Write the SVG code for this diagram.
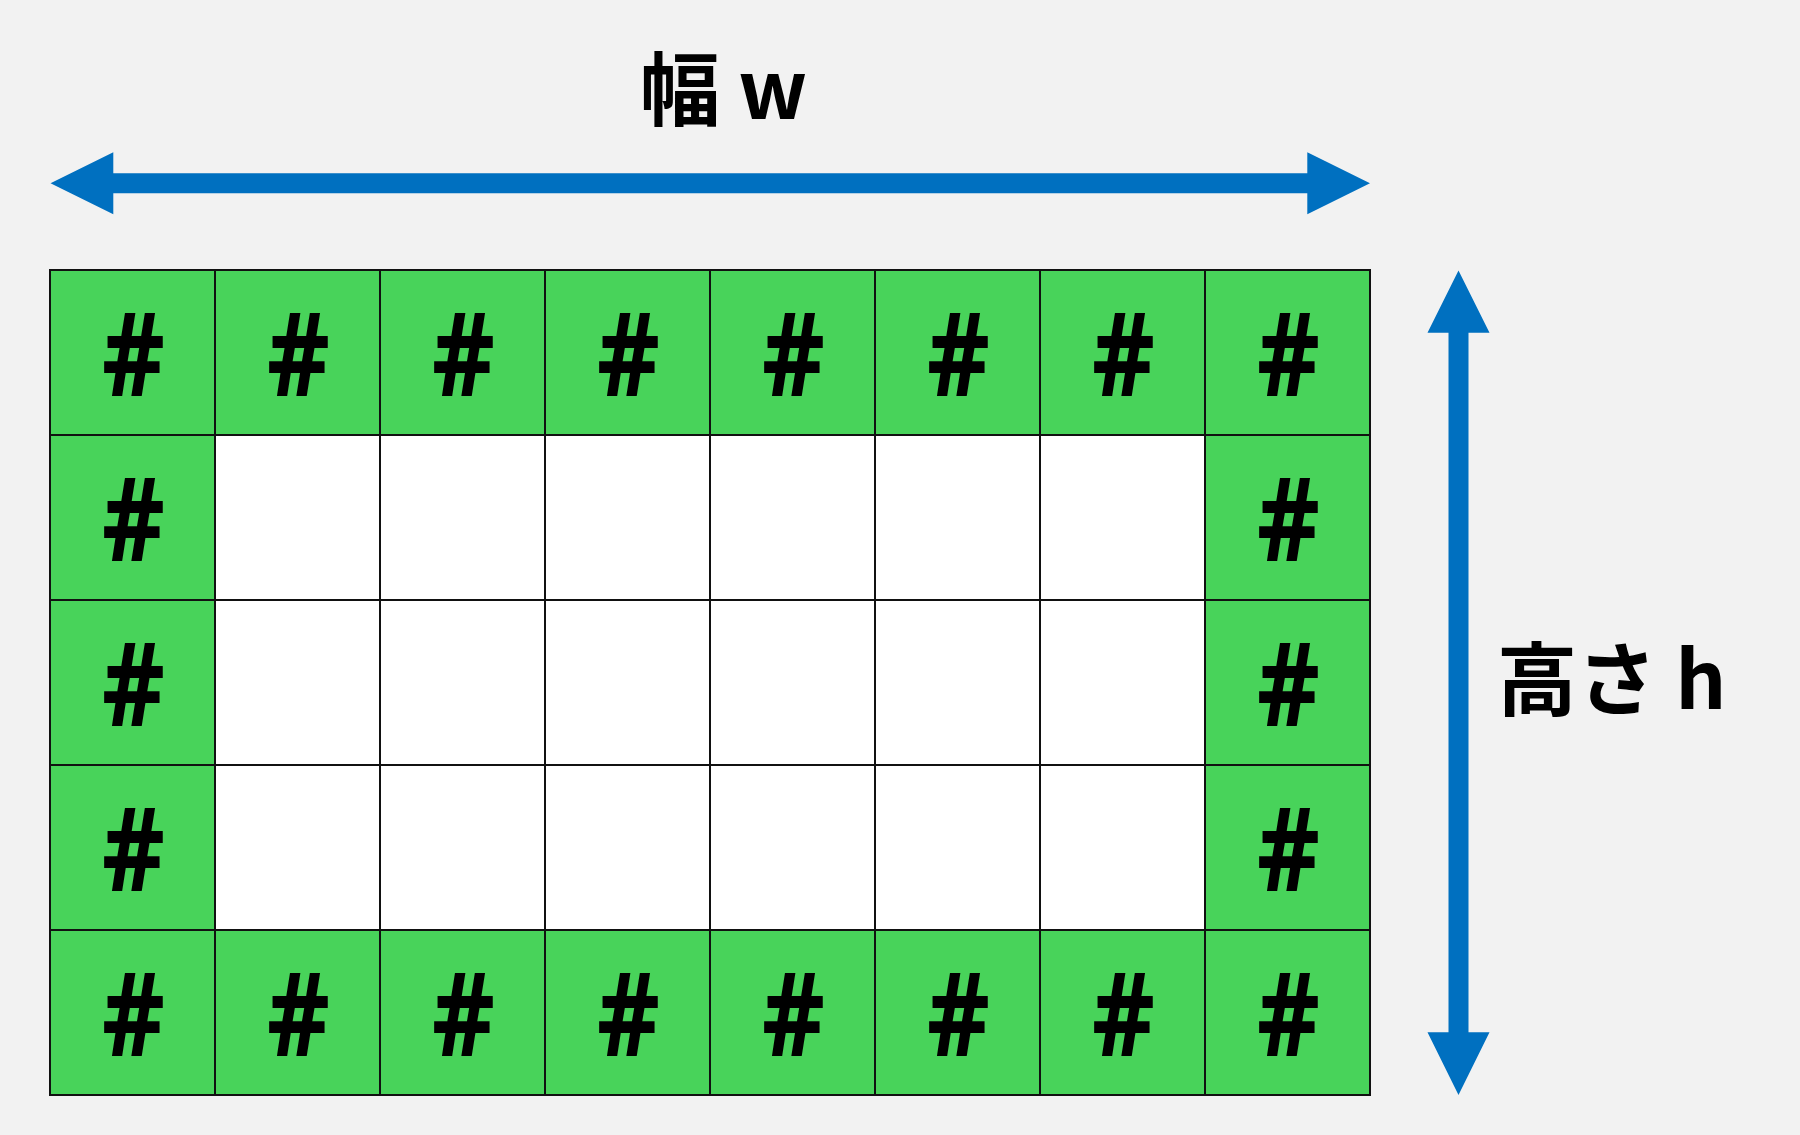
<svg xmlns="http://www.w3.org/2000/svg" width="1800" height="1135" viewBox="0 0 1800 1135">
<style>
.g{fill:#48d35a;stroke:#111;stroke-width:2}
.w{fill:#fff;stroke:#111;stroke-width:2}
.h{font-family:"Noto Sans","DejaVu Sans",sans-serif;font-weight:bold;font-size:116px;text-anchor:middle;fill:#000}
.lab{font-family:"Noto Sans CJK JP","Noto Sans",sans-serif;font-weight:bold;font-size:80px;fill:#000}
.arr{fill:#0070c0}
</style>
<defs>
<g id="gc"><rect class="g" x="0" y="0" width="165" height="165"/><text class="h" transform="translate(83.5,126) scale(0.84,1)">#</text></g>
<rect id="wc" class="w" x="0" y="0" width="165" height="165"/>
</defs>
<rect x="0" y="0" width="1800" height="1135" fill="#f2f2f2"/>
<g id="cells">
<g id="r0">
<use href="#gc" x="50" y="270"/><use href="#gc" x="215" y="270"/><use href="#gc" x="380" y="270"/><use href="#gc" x="545" y="270"/><use href="#gc" x="710" y="270"/><use href="#gc" x="875" y="270"/><use href="#gc" x="1040" y="270"/><use href="#gc" x="1205" y="270"/>
</g>
<g id="r1">
<use href="#gc" x="50" y="435"/><use href="#wc" x="215" y="435"/><use href="#wc" x="380" y="435"/><use href="#wc" x="545" y="435"/><use href="#wc" x="710" y="435"/><use href="#wc" x="875" y="435"/><use href="#wc" x="1040" y="435"/><use href="#gc" x="1205" y="435"/>
</g>
<g id="r2">
<use href="#gc" x="50" y="600"/><use href="#wc" x="215" y="600"/><use href="#wc" x="380" y="600"/><use href="#wc" x="545" y="600"/><use href="#wc" x="710" y="600"/><use href="#wc" x="875" y="600"/><use href="#wc" x="1040" y="600"/><use href="#gc" x="1205" y="600"/>
</g>
<g id="r3">
<use href="#gc" x="50" y="765"/><use href="#wc" x="215" y="765"/><use href="#wc" x="380" y="765"/><use href="#wc" x="545" y="765"/><use href="#wc" x="710" y="765"/><use href="#wc" x="875" y="765"/><use href="#wc" x="1040" y="765"/><use href="#gc" x="1205" y="765"/>
</g>
<g id="r4">
<use href="#gc" x="50" y="930"/><use href="#gc" x="215" y="930"/><use href="#gc" x="380" y="930"/><use href="#gc" x="545" y="930"/><use href="#gc" x="710" y="930"/><use href="#gc" x="875" y="930"/><use href="#gc" x="1040" y="930"/><use href="#gc" x="1205" y="930"/>
</g>
</g>
<g id="connectors">
<polygon id="width-arrow" class="arr" points="50.5,183.3 113.3,152.3 113.3,173.3 1307.3,173.3 1307.3,152.3 1370,183.3 1307.3,214.3 1307.3,193.3 113.3,193.3 113.3,214.3"/>
<polygon id="height-arrow" class="arr" points="1458.5,270.5 1489.5,332.7 1468.5,332.7 1468.5,1032.3 1489.5,1032.3 1458.5,1095 1427.5,1032.3 1448.5,1032.3 1448.5,332.7 1427.5,332.7"/>
</g>
<g id="label-w"><text class="lab" x="640" y="119">幅 w</text></g>
<g id="label-h"><text class="lab" x="1497" y="709">高さ h</text></g>
</svg>
